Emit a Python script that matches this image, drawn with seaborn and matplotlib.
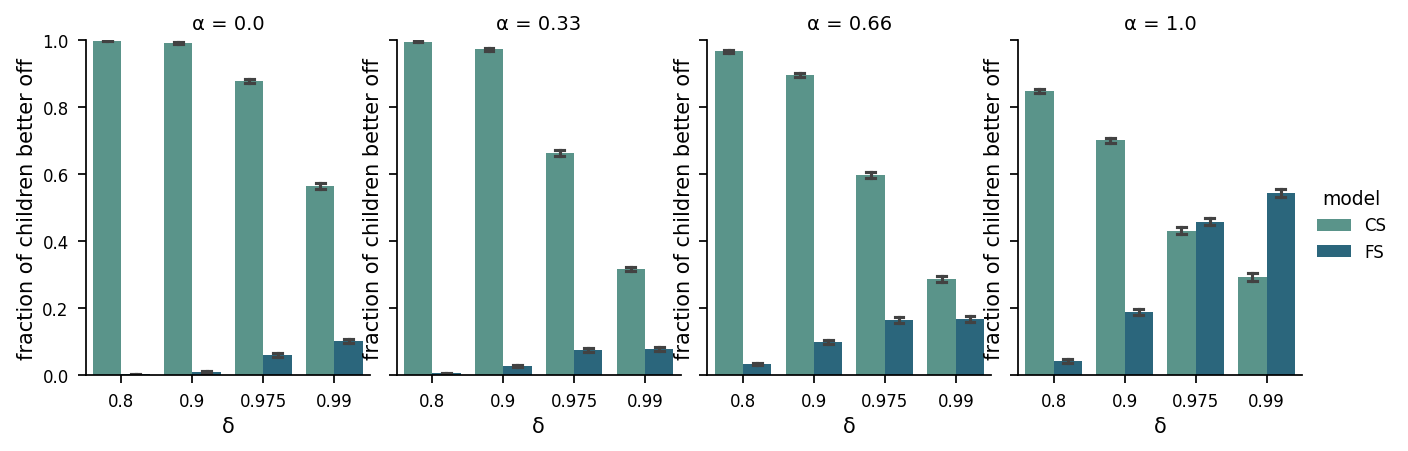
import pandas as pd
import seaborn as sns
import matplotlib.pyplot as plt

# values
alphas = ["0.0", "0.33", "0.66", "1.0"]
deltas = ["0.8", "0.9", "0.975", "0.99"]
models = ["CS", "FS"]

# mean fraction per alpha, one list per model (ordered by delta)
cs_mean = {
    "0.0": [0.998, 0.991, 0.878, 0.564],
    "0.33": [0.995, 0.973, 0.663, 0.316],
    "0.66": [0.967, 0.896, 0.598, 0.287],
    "1.0": [0.849, 0.701, 0.431, 0.293],
}
fs_mean = {
    "0.0": [0.002, 0.008, 0.060, 0.101],
    "0.33": [0.005, 0.027, 0.075, 0.078],
    "0.66": [0.033, 0.099, 0.164, 0.167],
    "1.0": [0.042, 0.188, 0.458, 0.544],
}
# half-width of the error bars
cs_err = {
    "0.0": [0.002, 0.0025, 0.007, 0.0085],
    "0.33": [0.002, 0.004, 0.008, 0.0065],
    "0.66": [0.004, 0.005, 0.009, 0.008],
    "1.0": [0.006, 0.008, 0.010, 0.011],
}
fs_err = {
    "0.0": [0.002, 0.003, 0.005, 0.006],
    "0.33": [0.002, 0.004, 0.006, 0.006],
    "0.66": [0.004, 0.005, 0.010, 0.010],
    "1.0": [0.005, 0.009, 0.010, 0.011],
}

# build a long table: two observations per bar spanning the error range
rows = []
for a in alphas:
    for model, means, errs in [("CS", cs_mean, cs_err), ("FS", fs_mean, fs_err)]:
        for d, m, e in zip(deltas, means[a], errs[a]):
            rows.append({"alpha": a, "delta": d, "model": model, "frac": m - e})
            rows.append({"alpha": a, "delta": d, "model": model, "frac": m + e})
df = pd.DataFrame(rows)

sns.set_context("notebook", rc={"legend.fontsize": 12, "legend.title_fontsize": 13.5})

g = sns.catplot(data=df, x="delta", y="frac", hue="model", col="alpha",
                kind="bar", order=deltas, hue_order=models, col_order=alphas,
                palette="crest", errorbar=("pi", 100), capsize=0.25,
                height=4, aspect=0.75)
g.set_titles("α = {col_name}", size=14, pad=8)
g.set(ylim=(0, 1))
for ax in g.axes.flat:
    ax.set_xlabel("δ", fontsize=15)
    ax.set_ylabel("fraction of children better off", fontsize=15)
    ax.yaxis.label.set_visible(True)
    ax.tick_params(labelsize=12, pad=6.5)

fig = g.figure
fig.set_size_inches(14.08, 4.52)
fig.subplots_adjust(left=0.0611, right=0.9247, bottom=0.168, top=0.909, wspace=0.095)
sns.move_legend(g, "center left", bbox_to_anchor=(0.925, 0.5), frameon=False)

plt.savefig("out.png", dpi=100)
plt.close()
